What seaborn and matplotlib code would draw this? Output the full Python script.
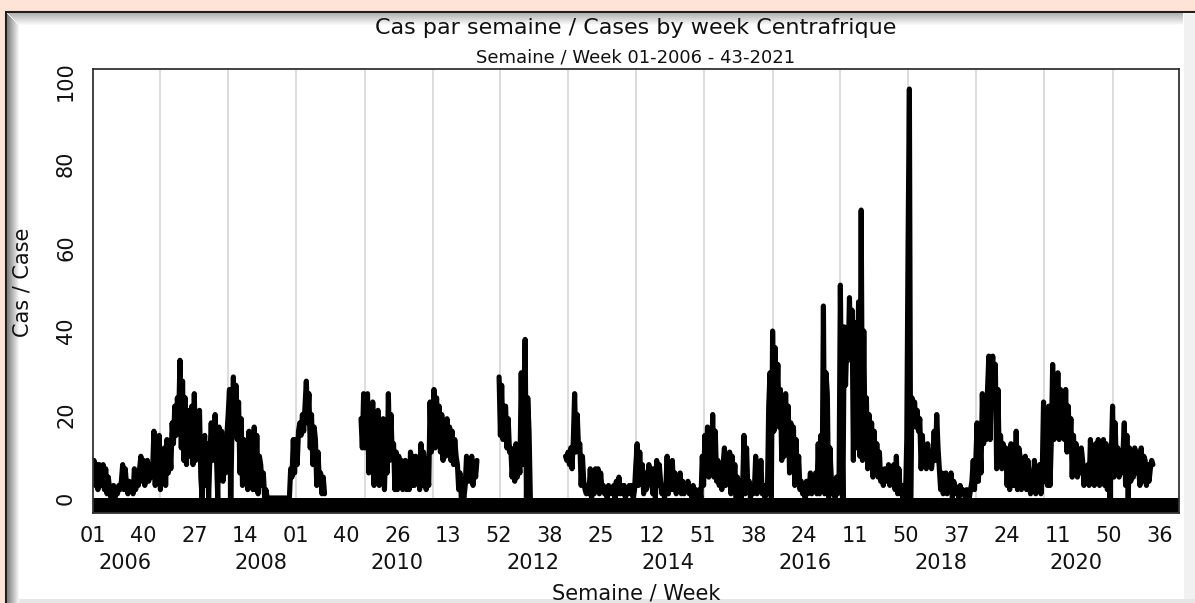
import numpy as np
import pandas as pd
import matplotlib.pyplot as plt
from matplotlib.patches import Rectangle
import seaborn as sns

# Cas hebdomadaires (semaines ISO), None = pas de données
y2006 = [6, 9, 3, 8, 2, 8, 7, 3, 8, 2, 7, 1, 5,
         2, 0, 1, 3, 0, 2, 1, 3, 2, 4, 8, 2, 7, 3,
         1, 4, 2, 3, 1, 7, 2, 6, 3, 7, 10, 4, 9, 3, 8,
         9, 4, 8, 5, 7, 16, 3, 12, 4, 15]
y2007 = [2, 11, 5, 12, 3, 14, 6, 13, 7,
         18, 13, 22, 15, 24, 19, 33, 12, 28, 9,
         24, 8, 21, 10, 18, 22, 8, 25, 9, 20, 11,
         21, 5, 0, 12, 15, 3, 13, 0, 10, 18, 9, 16,
         20, 10, 0, 17, 12, 16, 4, 13, 6, 15]
y2008 = [20, 26, 0, 18, 29, 15, 27, 14, 23, 6, 19,
         3, 14, 4, 12, 2, 16, 3, 13, 2, 17, 2, 15, 1, 10,
         8, 3, 6, 0, 2, 0] + [0] * 17 + [7, 5, 14, 6]
y2009 = [14, 8, 16, 18, 15, 20, 16, 22, 28, 18, 25, 12,
         20, 8, 17, 14, 3, 11, 4, 6, 1, 5, 1] + [None] * 27 + [19, 12, 25]
y2010 = [12, 22, 25, 6, 20, 8, 23, 3, 18, 4, 21, 3, 15,
         5, 19, 2, 14, 6, 25, 9, 20, 10, 13, 2, 11,
         2, 10, 3, 9, 2, 8, 9, 2, 7, 2, 11, 3, 10,
         3, 10, 4, 8, 2, 13, 3, 11, 8, 2, 6, 3, 23, 11]
y2011 = [14, 26, 12, 24, 15, 22, 11, 20, 9, 18, 10, 19, 12,
         17, 9, 16, 8, 14, 10, 8, 2, 6, 0, 1, 0,
         3, 10, 4, 9, 4, 10, 3, 8, 5, 9] + [None] * 16 + [29]
y2012 = [15, 27, 14, 22, 22, 12, 19, 11, 12, 5, 10, 4,
         13, 5, 9, 6, 30, 8, 24, 38, 0, 24, 16, 0] + [None] * 26 + [10, 9]
y2013 = [11, 8, 12, 7, 14, 25, 11, 20, 12, 13, 3, 10, 4,
         2, 1, 3, 1, 7, 0, 6, 1, 7, 2, 7, 1, 6, 2,
         3, 1, 2, 0, 3, 1, 2, 1, 3, 0, 4, 1, 5, 1, 3,
         1, 3, 0, 2, 1, 3, 1, 3, 0, 2]
y2014 = [8, 13, 3, 11, 4, 8, 1, 6, 2, 3, 8, 4, 7,
         1, 7, 0, 9, 3, 8, 4, 1, 3, 0, 2,
         10, 1, 8, 2, 9, 2, 6, 1, 5, 2, 6, 1,
         4, 1, 3, 2, 4, 1, 2, 0, 3, 1, 2, 0, 1, 2, 0, 10]
y2015 = [3, 15, 6, 17, 5, 13, 7, 20, 5, 16, 4,
         9, 3, 7, 2, 8, 12, 3, 10, 4, 11,
         1, 10, 2, 8, 0, 5, 1, 4, 0, 3, 15, 1, 12, 2,
         4, 0, 3, 1, 2, 10, 1, 8, 2, 9, 1, 3, 0, 2, 1, 22, 30, 0]
y2016 = [40, 16, 36, 20, 32, 17, 26, 9, 22, 10, 25,
         12, 22, 6, 18, 8, 17, 3, 14, 4, 10,
         2, 4, 1, 3, 0, 4, 1, 2, 6, 1, 5, 2, 6, 1,
         13, 1, 15, 2, 46, 1, 30, 25, 0, 12, 5, 1, 4, 0, 5, 1, 4]
y2017 = [51, 20, 0, 41, 27, 38, 33, 48, 35, 45, 9, 42, 12, 30,
         47, 10, 69, 9, 40, 12, 24, 7, 20, 8, 18,
         5, 16, 6, 13, 5, 11, 4, 6, 3, 7, 4, 5,
         8, 3, 7, 4, 8, 2, 10, 1, 7, 1, 3, 0, 2, 0, 14]
y2018 = [61, 98, 0, 24, 18, 23, 17, 21, 16, 19, 7, 15, 8, 12,
         7, 13, 8, 11, 7, 10, 16, 9, 20, 12, 7, 2, 6, 1, 5,
         6, 1, 5, 2, 6, 0, 4, 3, 1, 2, 0, 3, 1, 2,
         1, 0, 2, 1, 0, 2, 4, 9, 2]
y2019 = [9, 18, 4, 15, 6, 25, 13, 22, 14, 26, 34, 14, 29, 34, 27,
         32, 7, 26, 9, 15, 7, 13, 8, 12, 3, 10, 2, 13, 3, 9,
         3, 16, 2, 12, 10, 2, 8, 3, 10, 2, 9, 6, 1, 5, 2,
         9, 1, 7, 2, 8, 1, 6]
y2020 = [23, 4, 20, 3, 22, 3, 14, 32, 14, 28, 16, 30,
         14, 26, 15, 24, 14, 26, 11, 22, 12, 19, 5, 15, 6,
         13, 5, 11, 6, 12, 9, 3, 7, 4, 8,
         3, 14, 4, 12, 3, 13, 5, 14, 3, 11, 4, 14, 3, 13, 2, 12, 0, 10]
y2021 = [22, 5, 18, 6, 12, 5, 10, 6, 11, 18, 3, 15,
         0, 12, 4, 10, 5, 12, 6, 11, 7, 3, 12, 4, 10,
         9, 3, 8, 4, 7, 9, 8]

years = list(range(2006, 2022))
weeks_per_year = [52, 52, 52, 53, 52, 52, 52, 52, 52, 53, 52, 52, 52, 52, 53, 52]
week_labels = ["01", "40", "27", "14", "01", "40", "26", "13", "52", "38", "25",
               "12", "51", "38", "24", "11", "50", "37", "24", "11", "50", "36"]
label_step = 39

cases = (y2006 + y2007 + y2008 + y2009 + y2010 + y2011 + y2012 + y2013 +
         y2014 + y2015 + y2016 + y2017 + y2018 + y2019 + y2020 + y2021)
df = pd.DataFrame({"semaine": np.arange(len(cases)), "cas": pd.array(cases, dtype="float")})
df["segment"] = df["cas"].isna().cumsum()
df = df.dropna()

year_start = np.concatenate([[0], np.cumsum(weeks_per_year)[:-1]])

sns.set_style("white")
plt.rcParams["font.family"] = ["DejaVu Sans"]
plt.rcParams["text.color"] = "#111111"
plt.rcParams["axes.labelcolor"] = "#111111"
plt.rcParams["xtick.color"] = "#111111"
plt.rcParams["ytick.color"] = "#111111"

W, H = 1195, 603
fig = plt.figure(figsize=(W / 100, H / 100), dpi=100, facecolor="#fde4d7")

# cadre blanc avec ombre
fig.patches.append(Rectangle((6 / W, -0.01), 1200 / W, 591 / H + 0.01, transform=fig.transFigure,
                             facecolor="white", edgecolor="#1e1e1e", lw=1.5, zorder=-10))
fig.patches.append(Rectangle((1184 / W, 0), 11 / W, 589 / H, transform=fig.transFigure,
                             facecolor="#f1f1f1", edgecolor="none", zorder=-9))
fig.patches.append(Rectangle((7 / W, 0), 1188 / W, 4 / H, transform=fig.transFigure,
                             facecolor="#e6e6e6", edgecolor="none", zorder=-9))
for k in range(12):
    g = 0.5 + 0.5 * k / 12
    fig.patches.append(Rectangle(((7 + k) / W, 0), 1 / W, (589 - k) / H, transform=fig.transFigure,
                                 facecolor=(g, g, g), edgecolor="none", zorder=-8))
    g2 = 0.7 + 0.3 * k / 12
    fig.patches.append(Rectangle(((8 + k) / W, 1 - (14 + k) / H), (1175 - k) / W, 1 / H,
                                 transform=fig.transFigure, facecolor=(g2, g2, g2),
                                 edgecolor="none", zorder=-8))

ax = fig.add_axes([92.7 / W, 1 - 513 / H, (1179 - 92.7) / W, (513 - 69) / H])
ax.set_facecolor("white")

for xs in year_start[1:]:
    ax.axvline(xs, color="#d9d9d9", lw=1.3, zorder=0)

ax.axhspan(-3.6, 0, color="black", lw=0, zorder=1)

sns.lineplot(data=df, x="semaine", y="cas", units="segment", estimator=None,
             color="black", lw=3.7, solid_joinstyle="round", ax=ax, zorder=2)

ax.set_xlim(0, 834)
ax.set_ylim(-3.6, 102.8)

ax.xaxis.remove_overlapping_locs = False
ax.set_xticks(np.arange(len(week_labels)) * label_step)
ax.set_xticklabels(week_labels)
ax.set_xticks(year_start[::2] + 25, minor=True)
ax.set_xticklabels([str(y) for y in years[::2]], minor=True)
ax.tick_params(axis="x", which="major", length=0, pad=9, labelsize=15)
ax.tick_params(axis="x", which="minor", length=0, pad=29, labelsize=15)

ax.set_yticks([0, 20, 40, 60, 80, 100])
ax.tick_params(axis="y", length=10, width=1.1, pad=2, labelsize=15, labelrotation=90,
               color="black")
for t in ax.get_yticklabels():
    t.set_va("center")

for s in ax.spines.values():
    s.set_visible(True)
    s.set_color("#333333")
    s.set_linewidth(1.3)

ax.set_xlabel("Semaine / Week", fontsize=15)
ax.xaxis.set_label_coords(0.5, -0.158)
ax.set_ylabel("Cas / Case", fontsize=15)
ax.yaxis.set_label_coords(-0.055, 0.52)

fig.text(636 / W, 1 - 28 / H, "Cas par semaine / Cases by week Centrafrique",
         ha="center", va="center", fontsize=16)
fig.text(636 / W, 1 - 57 / H, "Semaine / Week 01-2006 - 43-2021",
         ha="center", va="center", fontsize=13)

fig.savefig("out.png", dpi=100, facecolor=fig.get_facecolor())
